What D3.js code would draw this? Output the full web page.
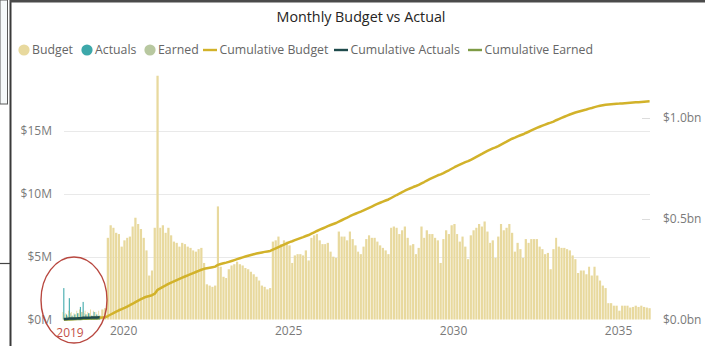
<!DOCTYPE html>
<html>
<head>
<meta charset="utf-8">
<script src="https://cdn.jsdelivr.net/npm/d3@7"></script>
<style>
  html, body { margin: 0; padding: 0; background: #fff; }
  svg { display: block; font-family: "Segoe UI", "Open Sans", sans-serif; }
</style>
</head>
<body>
<svg id="chart" width="705" height="346"></svg>
<script>
// ---- data (values in $M per month, starting March 2018) ----
const firstMonth = new Date(2018, 2, 1);
const endMonth = new Date(2036, 0, 1);

const budget = [
  // Mar 2018 - Jun 2019
  0.6, 0.5, 0.7, 0.6, 0.5, 0.7, 0.8, 0.6, 0.7, 0.6, 0.8, 0.7, 0.6, 0.7, 0.8, 0.9,
  // Jul 2019 - Dec 2020
  6.5, 7.5, 7.3, 6.9, 6.8, 5.8, 6.3, 6.5, 6.6, 7.4, 8.1, 7.6, 7.2, 6.5, 5.5, 3.5, 3.9, 7.3,
  // 2021 onwards
  19.4, 7.3, 7.5, 6.9, 7.3, 6.7, 6.2, 6.1, 5.8, 6.1, 6.0, 5.8, 5.7,
  5.5, 5.4, 5.6, 5.7, 4.5, 2.8, 2.7, 2.6, 2.7, 9.0, 4.2, 3.4, 3.3, 4.0, 4.3, 4.4, 4.6, 4.4,
  4.3, 4.1, 4.0, 3.8, 3.6, 3.4, 3.1, 2.7, 2.6, 2.4, 2.5,
  6.2, 6.3, 6.6, 6.0, 6.3, 6.2, 5.9, 4.5, 5.1, 5.2, 5.2, 5.1, 5.5, 4.7, 6.5, 6.7, 6.8, 6.3,
  6.0, 6.0, 6.1,
  5.4, 5.0, 4.9, 7.0, 6.6, 6.6, 6.3, 7.0, 6.4, 5.9, 5.4, 5.2, 5.8, 6.4, 6.7, 6.5, 6.5, 6.2,
  5.9, 5.7, 5.5, 5.2, 7.3, 7.4, 7.3, 6.8, 7.1, 7.4, 6.5, 5.9, 6.0, 5.2, 5.7, 7.4, 6.5, 7.1,
  6.8, 6.8, 6.5, 6.3, 4.5, 6.4, 7.1, 6.8, 7.5, 7.6, 6.8, 6.2, 6.6,
  5.8, 4.8, 6.7, 7.1, 7.3, 7.6, 7.4, 7.8, 7.0, 6.1, 6.3, 4.9, 6.6, 7.6, 7.1, 7.3, 7.6, 6.9,
  5.4, 6.1, 5.6, 4.9, 6.4, 6.1, 6.4, 6.4, 6.4, 5.8, 5.6, 5.2, 5.3, 4.0, 5.6, 6.5, 5.8, 5.7,
  5.7, 5.6, 5.5, 5.1, 4.8, 3.7, 3.9, 3.9, 3.6, 4.2, 3.5, 4.2, 3.5,
  3.1, 2.7, 2.5, 1.3, 1.3, 1.1, 1.1, 0.7, 1.1, 1.1, 1.1, 0.95, 1.0, 1.1, 1.0, 1.1, 1.0, 0.95, 0.9
];

// actuals and earned are only recorded for the first months (Mar 2018 - Apr 2019)
const actuals = [2.5, 0.4, 1.7, 0.3, 0.4, 0.5, 1.0, 1.4, 0.4, 0.5, 0.3, 0.6, 0.4, 0.3];
const earned  = [0.4, 0.3, 0.5, 0.3, 0.4, 0.5, 0.6, 0.5, 0.4, 0.5, 0.3, 0.4, 0.3, 0.3];

const leftTicks = [0, 5, 10, 15];          // $M
const rightTicks = [0, 0.5, 1.0];          // $bn
const yearTicks = [2020, 2025, 2030, 2035];

const legendItems = [
  { name: "Budget", kind: "dot", color: "#E8D99E" },
  { name: "Actuals", kind: "dot", color: "#3DA8AA" },
  { name: "Earned", kind: "dot", color: "#B8C8A0" },
  { name: "Cumulative Budget", kind: "line", color: "#D2B22A" },
  { name: "Cumulative Actuals", kind: "line", color: "#1F4A4C" },
  { name: "Cumulative Earned", kind: "line", color: "#7E9B45" }
];
const colorOf = Object.fromEntries(legendItems.map(d => [d.name, d.color]));

// ---- scales ----
const months = d3.timeMonth.range(firstMonth, endMonth);
const x = d3.scaleTime().domain([firstMonth, endMonth]).range([62.5, 651]);
const yL = d3.scaleLinear().domain([0, 20]).range([319.5, 68.2]);
const yR = d3.scaleLinear().domain([0, 1.25]).range([319.5, 67.6]);

const svg = d3.select("#chart");

// ---- page frame ----
svg.append("rect").attr("x", 0).attr("y", 0).attr("width", 7.5).attr("height", 104)
  .attr("fill", "#f6f9fa").attr("stroke", "#5a5a5a").attr("stroke-width", 1);
svg.append("line").attr("x1", 0).attr("x2", 10).attr("y1", 263.5).attr("y2", 263.5)
  .attr("stroke", "#444").attr("stroke-width", 1.2);
svg.append("line").attr("x1", 10.5).attr("x2", 10.5).attr("y1", 0).attr("y2", 346)
  .attr("stroke", "#3a3a3a").attr("stroke-width", 2);
svg.append("line").attr("x1", 10).attr("x2", 705).attr("y1", 1.2).attr("y2", 1.2)
  .attr("stroke", "#4a4a4a").attr("stroke-width", 2.4);

// ---- title ----
svg.append("text").attr("x", 361).attr("y", 22).attr("text-anchor", "middle")
  .attr("font-size", 14.3).attr("fill", "#252423").text("Monthly Budget vs Actual");

// ---- legend ----
const legend = svg.append("g").attr("font-size", 12.3).attr("fill", "#666");
const legendX = [24, 87, 150, 203, 334, 468];
legendItems.forEach((d, i) => {
  const g = legend.append("g").attr("transform", `translate(${legendX[i]},50)`);
  let tx;
  if (d.kind === "dot") {
    g.append("circle").attr("cx", 0).attr("cy", 0).attr("r", 5.6).attr("fill", d.color);
    tx = 8;
  } else {
    g.append("line").attr("x1", 0).attr("x2", 14).attr("y1", 0).attr("y2", 0)
      .attr("stroke", d.color).attr("stroke-width", 2.4);
    tx = 16.5;
  }
  g.append("text").attr("x", tx).attr("y", 4.3).text(d.name);
});

// ---- gridlines ----
svg.append("g").selectAll("line").data(leftTicks.filter(v => v > 0)).join("line")
  .attr("x1", 64).attr("x2", 650)
  .attr("y1", d => Math.round(yL(d)) + 0.5).attr("y2", d => Math.round(yL(d)) + 0.5)
  .attr("stroke", "#e9e9e9").attr("stroke-width", 1.2);

// short marks beside the secondary axis labels
svg.append("g").selectAll("line").data(rightTicks.filter(v => v > 0)).join("line")
  .attr("x1", 642).attr("x2", 650)
  .attr("y1", d => Math.round(yR(d)) + 0.5).attr("y2", d => Math.round(yR(d)) + 0.5)
  .attr("stroke", "#dcdcdc").attr("stroke-width", 1);

// ---- bars ----
const rows = months.map((m, i) => ({
  start: m,
  end: d3.timeMonth.offset(m, 1),
  budget: budget[i],
  actuals: i < actuals.length ? actuals[i] : null,
  earned: i < earned.length ? earned[i] : null
}));

const bars = svg.append("g");
rows.forEach(r => {
  const x0 = x(r.start), x1 = x(r.end), w = x1 - x0;
  if (r.actuals === null && r.earned === null) {
    bars.append("rect").attr("x", x0 + 0.25).attr("width", w - 0.55)
      .attr("y", yL(r.budget)).attr("height", yL(0) - yL(r.budget))
      .attr("fill", colorOf["Budget"]);
  } else {
    const sub = [["Budget", r.budget], ["Actuals", r.actuals], ["Earned", r.earned]];
    const bw = w / 3;
    sub.forEach(([name, v], k) => {
      if (v === null) return;
      bars.append("rect").attr("x", x0 + k * bw - (name === "Actuals" ? 0.15 : 0))
        .attr("width", bw * (name === "Actuals" ? 1.15 : 0.95))
        .attr("y", yL(v)).attr("height", yL(0) - yL(v))
        .attr("fill", colorOf[name]);
    });
  }
});

// ---- cumulative lines (secondary axis, $bn) ----
const mid = r => x(r.start) + (x(r.end) - x(r.start)) / 2;
const cumBudget = d3.cumsum(budget);
const cumActuals = d3.cumsum(actuals);
const cumEarned = d3.cumsum(earned);
const line = d3.line().x(d => d[0]).y(d => yR(d[1] / 1000));

svg.append("path")
  .datum(rows.map((r, i) => [mid(r), cumBudget[i]]))
  .attr("d", line).attr("fill", "none")
  .attr("stroke", colorOf["Cumulative Budget"]).attr("stroke-width", 2.5)
  .attr("stroke-linejoin", "round");
svg.append("path")
  .datum(actuals.map((_, i) => [mid(rows[i]), cumEarned[i]]))
  .attr("d", line).attr("fill", "none")
  .attr("stroke", colorOf["Cumulative Earned"]).attr("stroke-width", 2.5);
svg.append("path")
  .datum(actuals.map((_, i) => [mid(rows[i]), cumActuals[i]]))
  .attr("d", line).attr("fill", "none")
  .attr("stroke", colorOf["Cumulative Actuals"]).attr("stroke-width", 2.5);

// ---- axes ----
const axisText = sel => sel.selectAll("text").attr("fill", "#7a7a7a").attr("font-size", 12)
  .attr("font-family", "\"Segoe UI\", \"Open Sans\", sans-serif");

const xAxis = svg.append("g").attr("transform", "translate(0,324)")
  .call(d3.axisBottom(x).tickValues(yearTicks.map(y => new Date(y, 0, 1)))
    .tickFormat(d3.timeFormat("%Y")).tickSize(0).tickPadding(0));
xAxis.select(".domain").remove();
xAxis.call(axisText).selectAll("text").attr("dy", "0.95em");

const yAxisL = svg.append("g").attr("transform", "translate(52,0)")
  .call(d3.axisLeft(yL).tickValues(leftTicks).tickFormat(d => `$${d}M`).tickSize(0).tickPadding(0));
yAxisL.select(".domain").remove();
yAxisL.call(axisText);

const yAxisR = svg.append("g").attr("transform", "translate(663,0)")
  .call(d3.axisRight(yR).tickValues(rightTicks).tickFormat(d => `$${d.toFixed(1)}bn`).tickSize(0).tickPadding(0));
yAxisR.select(".domain").remove();
yAxisR.call(axisText);

// ---- hand annotation around the first year ----
svg.append("ellipse").attr("cx", 74).attr("cy", 300).attr("rx", 33).attr("ry", 43)
  .attr("fill", "none").attr("stroke", "#b8473f").attr("stroke-width", 1.4);
svg.append("text").attr("x", 70).attr("y", 336.5).attr("text-anchor", "middle")
  .attr("font-size", 12).attr("fill", "#c4514a").text("2019");
</script>
</body>
</html>
